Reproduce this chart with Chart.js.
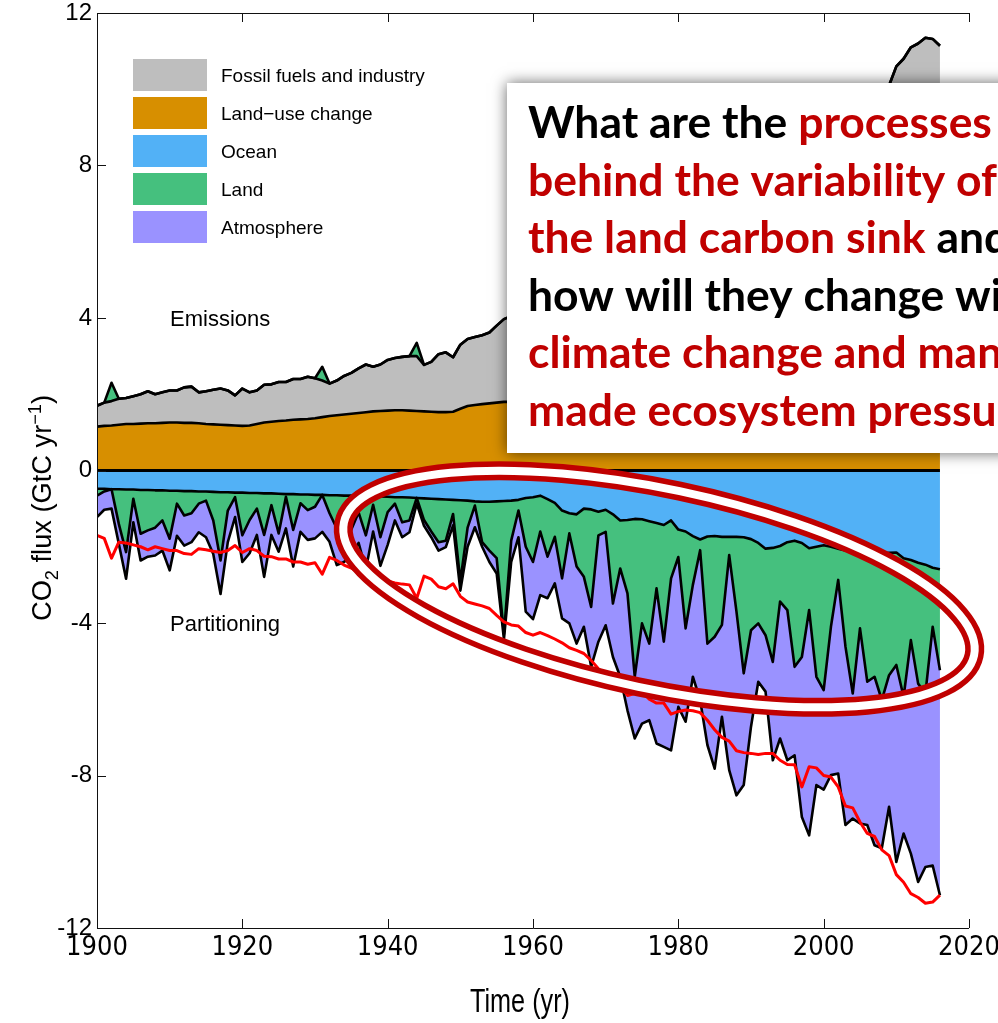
<!DOCTYPE html>
<html>
<head>
<meta charset="utf-8">
<script src="https://cdn.jsdelivr.net/npm/chart.js@4.4.1/dist/chart.umd.min.js"></script>
<style>
  html, body { margin: 0; padding: 0; background: #fff; }
  canvas { display: block; }
</style>
</head>
<body>
<canvas id="budget" width="998" height="1023"></canvas>
<script>
// Global carbon budget, GtC per year, 1900-2016
const firstYear = 1900;

const fossil = [
  0.55, 0.61, 0.64, 0.68, 0.68, 0.73, 0.77, 0.84, 0.76, 0.80,
  0.84, 0.84, 0.93, 0.95, 0.81, 0.86, 0.91, 0.95, 0.91, 0.79,
  0.98, 0.87, 0.88, 0.99, 0.98, 1.02, 1.01, 1.07, 1.06, 1.11,
  1.05, 0.96, 0.85, 0.91, 1.01, 1.07, 1.17, 1.25, 1.17, 1.22,
  1.33, 1.37, 1.40, 1.43, 1.44, 1.22, 1.31, 1.52, 1.57, 1.43,
  1.68, 1.76, 1.78, 1.81, 1.86, 2.02, 2.17, 2.25, 2.30, 2.55,
  2.64, 2.63, 2.73, 2.84, 2.95, 3.08, 3.17, 3.25, 3.43, 3.65,
  3.85, 3.98, 4.15, 4.40, 4.37, 4.35, 4.55, 4.68, 4.80, 4.99,
  4.92, 4.83, 4.78, 4.80, 5.00, 5.20, 5.35, 5.48, 5.75, 5.82,
  5.86, 5.90, 5.87, 5.90, 6.05, 6.16, 6.27, 6.35, 6.37, 6.38,
  6.55, 6.66, 6.78, 7.15, 7.40, 7.70, 7.97, 8.15, 8.47, 8.65,
  9.08, 9.32, 9.55, 9.65, 9.75, 9.77, 9.79
];

const landUse = [
  1.15, 1.17, 1.18, 1.20, 1.22, 1.22, 1.23, 1.24, 1.24, 1.25,
  1.26, 1.26, 1.25, 1.25, 1.24, 1.22, 1.21, 1.20, 1.19, 1.18,
  1.17, 1.18, 1.22, 1.26, 1.28, 1.30, 1.31, 1.33, 1.34, 1.35,
  1.37, 1.40, 1.43, 1.45, 1.47, 1.49, 1.51, 1.53, 1.55, 1.56,
  1.57, 1.58, 1.58, 1.57, 1.56, 1.55, 1.54, 1.53, 1.53, 1.54,
  1.62, 1.69, 1.72, 1.74, 1.76, 1.78, 1.80, 1.80, 1.78, 1.70,
  1.68, 1.62, 1.60, 1.58, 1.57, 1.57, 1.55, 1.55, 1.55, 1.55,
  1.55, 1.52, 1.50, 1.50, 1.48, 1.45, 1.45, 1.42, 1.30, 1.40,
  1.40, 1.45, 1.52, 1.55, 1.55, 1.60, 1.65, 1.62, 1.60, 1.58,
  1.56, 1.55, 1.55, 1.52, 1.55, 1.55, 1.45, 1.95, 1.40, 1.42,
  1.45, 1.38, 1.52, 1.65, 1.45, 1.52, 1.55, 1.45, 1.48, 1.45,
  1.52, 1.48, 1.55, 1.55, 1.60, 1.55, 1.35
];

// sinks are positive numbers; a negative land value is a land source
const ocean = [
  0.48, 0.48, 0.49, 0.49, 0.50, 0.50, 0.51, 0.51, 0.52, 0.52,
  0.53, 0.53, 0.54, 0.54, 0.55, 0.55, 0.56, 0.57, 0.57, 0.58,
  0.58, 0.59, 0.59, 0.60, 0.60, 0.61, 0.62, 0.62, 0.63, 0.63,
  0.64, 0.64, 0.65, 0.65, 0.66, 0.66, 0.67, 0.67, 0.68, 0.68,
  0.69, 0.70, 0.70, 0.71, 0.72, 0.73, 0.74, 0.75, 0.76, 0.77,
  0.78, 0.79, 0.81, 0.82, 0.82, 0.81, 0.80, 0.79, 0.77, 0.72,
  0.70, 0.66, 0.75, 0.85, 1.05, 1.12, 1.15, 1.00, 1.02, 1.08,
  1.03, 1.15, 1.31, 1.30, 1.27, 1.28, 1.33, 1.38, 1.43, 1.31,
  1.55, 1.60, 1.72, 1.81, 1.73, 1.72, 1.74, 1.74, 1.74, 1.75,
  1.80, 1.90, 2.05, 2.03, 1.98, 1.88, 1.84, 1.90, 2.04, 2.00,
  1.96, 2.00, 2.05, 2.10, 2.12, 2.15, 2.15, 2.18, 2.17, 2.16,
  2.15, 2.30, 2.35, 2.42, 2.47, 2.55, 2.59
];

const land = [
  0.18, 0.07, -0.48, 0.91, 1.64, 0.24, 1.15, 1.06, 0.98, 0.79,
  1.26, 0.34, 0.64, 0.58, 0.32, 0.24, 0.75, 1.79, 0.48, 0.12,
  1.12, 0.71, 0.41, 1.09, 0.31, 1.04, 0.07, 0.94, 0.23, 0.41,
  0.31, -0.36, 0.47, 0.87, 0.64, 0.89, 0.43, 1.03, 0.22, 1.07,
  0.40, 0.17, 0.66, 0.60, -0.35, 0.57, 0.86, 1.13, 1.08, 0.37,
  2.12, 0.71, 0.11, 1.06, 1.28, 1.49, 3.49, 1.05, 0.28, 1.28,
  1.70, 0.94, 1.51, 0.89, 1.78, 0.53, 1.37, 1.79, 2.56, 0.62,
  0.58, 2.34, 1.26, 1.92, 4.14, 2.73, 3.21, 1.71, 3.06, 1.52,
  0.72, 2.54, 1.28, 0.28, 2.81, 2.64, 2.31, 0.48, 1.96, 3.57,
  2.39, 2.11, 2.27, 2.99, 1.46, 1.78, 3.31, 2.99, 1.62, 3.41,
  3.80, 2.10, 0.82, 2.52, 3.73, 1.99, 3.39, 3.23, 3.85, 3.21,
  2.95, 3.64, 2.10, 3.17, 3.38, 1.55, 2.65
];

const atmosphere = [
  0.56, 0.48, 0.51, 0.52, 0.70, 0.62, 0.70, 0.69, 0.73, 0.79,
  0.83, 0.84, 0.79, 0.76, 0.75, 0.96, 0.88, 0.88, 0.83, 0.52,
  0.70, 0.87, 0.69, 1.10, 0.78, 0.48, 0.83, 0.96, 0.75, 0.78,
  0.83, 0.97, 0.75, 0.96, 1.10, 0.65, 0.80, 0.90, 0.70, 0.75,
  0.86, 0.44, 0.39, 0.31, 0.15, 0.15, 0.15, 0.22, 0.17, 0.30,
  0.25, 0.50, 0.57, 0.12, 0.30, 0.40, 0.13, 0.56, 0.70, 1.70,
  1.50, 1.67, 1.09, 1.22, 1.05, 2.36, 2.02, 1.31, 1.57, 2.79,
  2.45, 1.40, 2.84, 3.07, 1.62, 2.63, 2.01, 4.07, 2.76, 4.51,
  3.93, 2.45, 2.41, 3.93, 2.66, 3.46, 2.41, 5.64, 4.82, 2.93,
  2.53, 1.53, 1.48, 2.58, 3.59, 3.94, 2.32, 4.20, 5.91, 2.84,
  2.61, 3.89, 5.08, 4.68, 3.28, 5.12, 3.76, 4.42, 3.89, 3.45,
  5.17, 3.58, 5.60, 5.20, 4.55, 6.26, 5.90
];

const xTickValues = [1900, 1920, 1940, 1960, 1980, 2000, 2020];
const yTickValues = [-12, -8, -4, 0, 4, 8, 12];
const legendNames = ['Fossil fuels and industry', 'Land\u2212use change', 'Ocean', 'Land', 'Atmosphere'];

const GRAY = '#BEBEBE', ORANGE = '#D78F00', BLUE = '#52B1F6', GREEN = '#45C07E',
      PURPLE = '#9A92FF', RED = '#FF0000', DARKRED = '#C00000';
const legendColors = [GRAY, ORANGE, BLUE, GREEN, PURPLE];

// stacked boundaries built from the series above
const years = fossil.map((_, i) => firstYear + i);
const pts = arr => years.map((yr, i) => ({ x: yr, y: arr[i] }));
const landSource = land.map(v => Math.max(0, -v));
const landSink = land.map(v => Math.max(0, v));
const lucTop = landUse.slice();
const ffTop = landUse.map((v, i) => v + fossil[i]);
const srcTop = ffTop.map((v, i) => v + landSource[i]);
const oceanBot = ocean.map(v => -v);
const landBot = oceanBot.map((v, i) => v - landSink[i]);
const atmBot = landBot.map((v, i) => v - atmosphere[i]);
const emissionsMirror = srcTop.map(v => -v);

function edge(label, arr, extra) {
  return Object.assign({
    label, data: pts(arr), borderColor: '#000', borderWidth: 2.6,
    pointRadius: 0, tension: 0, borderJoinStyle: 'round', fill: false
  }, extra);
}

const decorations = {
  id: 'decorations',
  beforeDraw(chart) {
    const ctx = chart.ctx;
    ctx.save();
    ctx.fillStyle = '#fff';
    ctx.fillRect(0, 0, chart.width, chart.height);
    ctx.restore();
  },
  afterDraw(chart) {
    const { ctx, chartArea: a, scales } = chart;
    ctx.save();

    // axes frame (left, top, bottom) with inward ticks
    ctx.strokeStyle = '#111';
    ctx.lineWidth = 1;
    ctx.beginPath();
    ctx.moveTo(a.right, a.top + 0.5);
    ctx.lineTo(a.left + 0.5, a.top + 0.5);
    ctx.lineTo(a.left + 0.5, a.bottom + 0.5);
    ctx.lineTo(a.right, a.bottom + 0.5);
    scales.x.ticks.forEach(t => {
      const px = Math.round(scales.x.getPixelForValue(t.value)) + 0.5;
      ctx.moveTo(px, a.bottom); ctx.lineTo(px, a.bottom - 9);
      ctx.moveTo(px, a.top); ctx.lineTo(px, a.top + 9);
    });
    scales.y.ticks.forEach(t => {
      const py = Math.round(scales.y.getPixelForValue(t.value)) + 0.5;
      ctx.moveTo(a.left, py); ctx.lineTo(a.left + 9, py);
    });
    ctx.stroke();

    // legend
    ctx.font = '19px "Liberation Sans", Arial, sans-serif';
    ctx.textBaseline = 'alphabetic';
    legendNames.forEach((name, i) => {
      const top = 59 + i * 38;
      ctx.fillStyle = legendColors[i];
      ctx.fillRect(133, top, 74, 32);
      ctx.fillStyle = '#000';
      ctx.fillText(name, 221, top + 23);
    });

    ctx.font = '22px "Liberation Sans", Arial, sans-serif';
    ctx.fillText('Emissions', 170, 326);
    ctx.fillText('Partitioning', 170, 631);

    // y axis title with sub/superscript
    ctx.save();
    ctx.translate(41, 508);
    ctx.rotate(-Math.PI / 2);
    const big = '27px "Liberation Sans", Arial, sans-serif';
    const small = '18px "Liberation Sans", Arial, sans-serif';
    const parts = [['CO', big, 0], ['2', small, 7], [' flux (GtC yr', big, 0], ['\u22121', small, -10], [')', big, 0]];
    let total = 0;
    parts.forEach(p => { ctx.font = p[1]; total += ctx.measureText(p[0]).width; });
    ctx.scale(226 / total, 1);
    let cx = -total / 2;
    parts.forEach(p => {
      ctx.font = p[1];
      ctx.fillText(p[0], cx, 10 + p[2]);
      cx += ctx.measureText(p[0]).width;
    });
    ctx.restore();

    // x axis title
    ctx.save();
    ctx.font = '34px "Liberation Sans", Arial, sans-serif';
    const tw = ctx.measureText('Time (yr)').width;
    ctx.translate(520, 1012);
    ctx.scale(100 / tw, 1);
    ctx.textAlign = 'center';
    ctx.fillText('Time (yr)', 0, 0);
    ctx.restore();

    // question box
    ctx.save();
    ctx.shadowColor = 'rgba(0,0,0,0.6)';
    ctx.shadowBlur = 14;
    ctx.fillStyle = '#fff';
    ctx.fillRect(507, 83, 530, 370);
    ctx.restore();

    const lines = [
      [['What are the ', '#000'], ['processes', DARKRED]],
      [['behind the variability of', DARKRED]],
      [['the land carbon sink', DARKRED], [' and', '#000']],
      [['how will they change with', '#000']],
      [['climate change and man-', DARKRED]],
      [['made ecosystem pressures?', DARKRED]]
    ];
    ctx.font = 'bold 40px Lato, "Open Sans", sans-serif';
    const size = 40 * 464 / ctx.measureText('What are the processes').width;
    ctx.font = `bold ${size}px Lato, "Open Sans", sans-serif`;
    lines.forEach((segs, i) => {
      let x = 528;
      const y = 138 + i * 57.5;
      segs.forEach(([txt, col]) => {
        ctx.fillStyle = col;
        ctx.fillText(txt, x, y);
        x += ctx.measureText(txt).width;
      });
    });

    // highlight ellipse
    ctx.beginPath();
    ctx.ellipse(659, 589, 322, 100, 0.208, 0, Math.PI * 2);
    ctx.strokeStyle = DARKRED;
    ctx.lineWidth = 19;
    ctx.stroke();
    ctx.strokeStyle = '#fff';
    ctx.lineWidth = 8;
    ctx.stroke();

    ctx.restore();
  }
};

const tickFont = { family: '"Liberation Sans", Arial, sans-serif', size: 24, lineHeight: 1 };

new Chart(document.getElementById('budget').getContext('2d'), {
  type: 'line',
  data: {
    datasets: [
      edge('Emissions (mirrored)', emissionsMirror, { borderColor: RED, borderWidth: 3, order: 0 }),
      { label: 'zero', data: [{ x: years[0], y: 0 }, { x: years[years.length - 1], y: 0 }],
        borderColor: '#000', borderWidth: 3, pointRadius: 0, fill: false, order: 1 },
      edge('Land-use change', lucTop, { fill: 'origin', backgroundColor: ORANGE, order: 2 }),
      edge('Fossil fuels and industry', ffTop, { fill: 2, backgroundColor: GRAY, order: 3 }),
      edge('Land source', srcTop, { fill: 3, backgroundColor: GREEN, order: 4 }),
      edge('Ocean', oceanBot, { fill: 'origin', backgroundColor: BLUE, order: 5 }),
      edge('Land', landBot, { fill: 5, backgroundColor: GREEN, order: 6 }),
      edge('Atmosphere', atmBot, { fill: 6, backgroundColor: PURPLE, order: 7 })
    ]
  },
  options: {
    responsive: false,
    animation: false,
    devicePixelRatio: 1,
    layout: { padding: { top: 13, right: 29, left: 0, bottom: 0 } },
    plugins: {
      legend: { display: false },
      tooltip: { enabled: false },
      filler: { drawTime: 'beforeDatasetsDraw' }
    },
    scales: {
      x: {
        type: 'linear', min: 1900, max: 2020,
        afterBuildTicks: s => { s.ticks = xTickValues.map(v => ({ value: v })); },
        afterFit: s => { s.height = 95; s.paddingLeft = 0; s.paddingRight = 0; },
        grid: { display: false, drawTicks: false },
        border: { display: false },
        ticks: {
          callback: v => String(v), color: '#000', padding: 4, maxRotation: 0, autoSkip: false,
          font: { family: '"Liberation Sans Narrow", "DejaVu Sans Condensed", "Liberation Sans", sans-serif', size: 27 }
        }
      },
      y: {
        type: 'linear', min: -12, max: 12,
        afterBuildTicks: s => { s.ticks = yTickValues.map(v => ({ value: v })); },
        afterFit: s => { s.width = 97; s.paddingTop = 0; s.paddingBottom = 0; },
        grid: { display: false, drawTicks: false },
        border: { display: false },
        ticks: { color: '#000', padding: 5, font: tickFont }
      }
    }
  },
  plugins: [decorations]
});
</script>
</body>
</html>
